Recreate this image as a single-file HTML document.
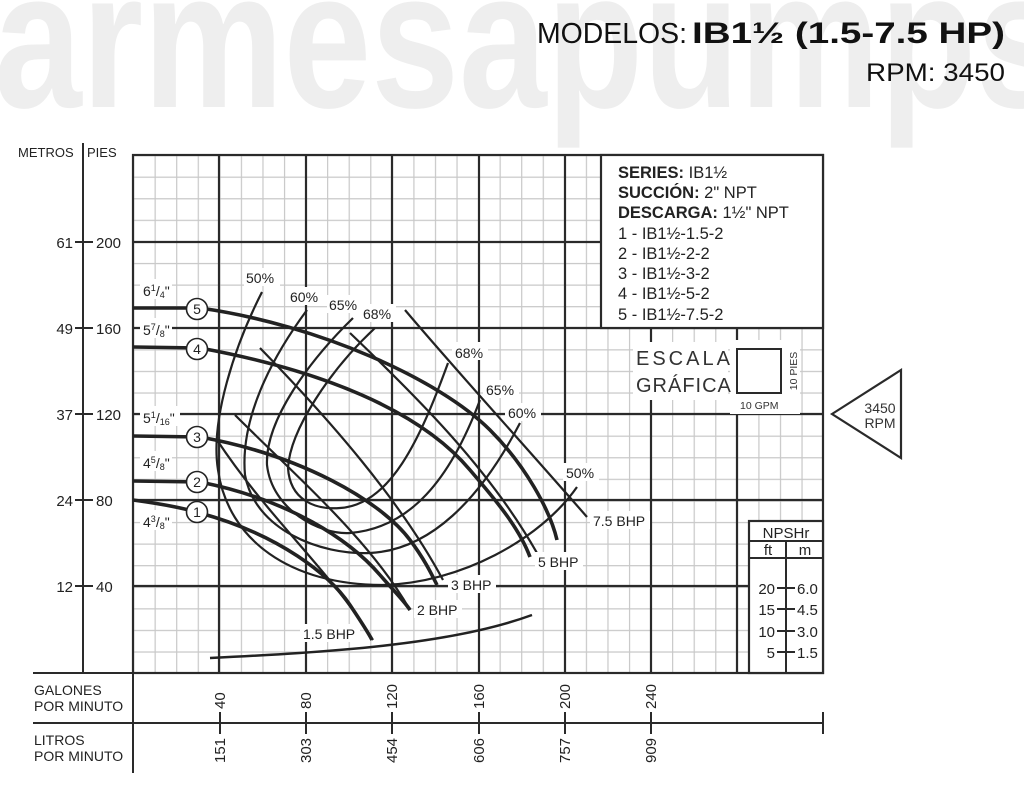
<!DOCTYPE html>
<html><head><meta charset="utf-8"><style>
html,body{margin:0;padding:0;background:#fff;}
svg{display:block;font-family:"Liberation Sans",sans-serif;}
</style></head><body>
<svg width="1024" height="787" viewBox="0 0 1024 787" xmlns="http://www.w3.org/2000/svg">
<defs>
<pattern id="mg" patternUnits="userSpaceOnUse" x="133" y="155" width="21.5625" height="21.583">
<path d="M0.6,0 V21.583 M0,0.6 H21.5625" stroke="#c8c8c8" stroke-width="1.2" fill="none"/>
</pattern>
</defs>
<text x="-6" y="107" font-size="196" font-weight="bold" fill="#eeeeee" textLength="1070" lengthAdjust="spacingAndGlyphs">armesapumps</text>
<text x="537" y="43" font-size="29" fill="#111" textLength="150" lengthAdjust="spacingAndGlyphs">MODELOS:</text>
<text x="692" y="43" font-size="30" font-weight="bold" fill="#111" textLength="313" lengthAdjust="spacingAndGlyphs">IB1½ (1.5-7.5 HP)</text>
<text x="866" y="81" font-size="25" fill="#111" textLength="139" lengthAdjust="spacingAndGlyphs">RPM: 3450</text>

<rect x="133" y="155" width="690" height="518" fill="url(#mg)"/>
<g stroke="#2a2a2a" stroke-width="2.2">
<line x1="219" y1="155" x2="219" y2="673"/><line x1="306" y1="155" x2="306" y2="673"/>
<line x1="392" y1="155" x2="392" y2="673"/><line x1="479" y1="155" x2="479" y2="673"/>
<line x1="565" y1="155" x2="565" y2="673"/><line x1="651" y1="155" x2="651" y2="673"/>
<line x1="737" y1="155" x2="737" y2="673"/>
<line x1="133" y1="242" x2="823" y2="242"/><line x1="133" y1="328" x2="823" y2="328"/>
<line x1="133" y1="414" x2="823" y2="414"/><line x1="133" y1="500" x2="823" y2="500"/>
<line x1="133" y1="586" x2="823" y2="586"/>
<rect x="133" y="155" width="690" height="518" fill="none"/>
</g>
<rect x="601" y="155" width="222" height="173" fill="#fff" stroke="#2a2a2a" stroke-width="2.2"/>
<g font-size="16.5" fill="#222">
<text x="618" y="178"><tspan font-weight="bold">SERIES:</tspan> IB1½</text>
<text x="618" y="198"><tspan font-weight="bold">SUCCIÓN:</tspan> 2" NPT</text>
<text x="618" y="218"><tspan font-weight="bold">DESCARGA:</tspan> 1½" NPT</text>
<text x="618" y="239">1 - IB1½-1.5-2</text>
<text x="618" y="259">2 - IB1½-2-2</text>
<text x="618" y="279">3 - IB1½-3-2</text>
<text x="618" y="299">4 - IB1½-5-2</text>
<text x="618" y="320">5 - IB1½-7.5-2</text>
</g>
<rect x="633" y="342" width="95" height="58" fill="#fff"/>
<rect x="730" y="340" width="70" height="74" fill="#fff"/>
<rect x="737" y="349" width="44" height="44" fill="#fff" stroke="#2a2a2a" stroke-width="2"/>
<text x="636" y="365" font-size="20" fill="#333" letter-spacing="3">ESCALA</text>
<text x="636" y="392" font-size="20" fill="#333" letter-spacing="1">GRÁFICA</text>
<text x="740" y="409" font-size="10.5" fill="#333">10 GPM</text>
<text transform="translate(797,371) rotate(-90)" font-size="10.5" fill="#333" text-anchor="middle">10 PIES</text>
<polygon points="832,414 901,370 901,458" fill="#fff" stroke="#2a2a2a" stroke-width="2.2"/>
<text x="880" y="413" font-size="14" text-anchor="middle" fill="#333">3450</text>
<text x="880" y="428" font-size="14" text-anchor="middle" fill="#333">RPM</text>
<rect x="749" y="521" width="74" height="152" fill="#fff" stroke="#2a2a2a" stroke-width="2.2"/>
<g stroke="#2a2a2a" stroke-width="2">
<line x1="749" y1="541" x2="823" y2="541"/><line x1="749" y1="558" x2="823" y2="558"/>
<line x1="786" y1="541" x2="786" y2="673"/>
<line x1="777" y1="588" x2="795" y2="588"/><line x1="777" y1="609" x2="795" y2="609"/>
<line x1="777" y1="631" x2="795" y2="631"/><line x1="777" y1="652" x2="795" y2="652"/>
</g>
<g font-size="15" fill="#222">
<text x="786" y="538" text-anchor="middle">NPSHr</text>
<text x="768" y="555" text-anchor="middle">ft</text><text x="805" y="555" text-anchor="middle">m</text>
<text x="775" y="594" text-anchor="end">20</text><text x="775" y="615" text-anchor="end">15</text>
<text x="775" y="637" text-anchor="end">10</text><text x="775" y="658" text-anchor="end">5</text>
<text x="797" y="594">6.0</text><text x="797" y="615">4.5</text>
<text x="797" y="637">3.0</text><text x="797" y="658">1.5</text>
</g>
<g stroke="#2a2a2a" stroke-width="2">
<line x1="83" y1="143" x2="83" y2="673"/>
<line x1="75" y1="242" x2="93" y2="242"/><line x1="75" y1="328" x2="93" y2="328"/>
<line x1="75" y1="414" x2="93" y2="414"/><line x1="75" y1="500" x2="93" y2="500"/>
<line x1="75" y1="586" x2="93" y2="586"/>
<line x1="33" y1="673" x2="823" y2="673"/>
<line x1="33" y1="723" x2="823" y2="723"/>
<line x1="823" y1="712" x2="823" y2="734"/>
<line x1="133" y1="673" x2="133" y2="773"/>
<line x1="220" y1="712" x2="220" y2="734"/><line x1="306" y1="712" x2="306" y2="734"/>
<line x1="392" y1="712" x2="392" y2="734"/><line x1="479" y1="712" x2="479" y2="734"/>
<line x1="565" y1="712" x2="565" y2="734"/><line x1="651" y1="712" x2="651" y2="734"/>
</g>
<g font-size="15" fill="#222">
<text x="18" y="157" font-size="13">METROS</text><text x="87" y="157" font-size="13">PIES</text>
<text x="73" y="248" text-anchor="end">61</text><text x="96" y="248">200</text>
<text x="73" y="334" text-anchor="end">49</text><text x="96" y="334">160</text>
<text x="73" y="420" text-anchor="end">37</text><text x="96" y="420">120</text>
<text x="73" y="506" text-anchor="end">24</text><text x="96" y="506">80</text>
<text x="73" y="592" text-anchor="end">12</text><text x="96" y="592">40</text>
<text x="34" y="695" font-size="14">GALONES</text><text x="34" y="711" font-size="14">POR MINUTO</text>
<text x="34" y="745" font-size="14">LITROS</text><text x="34" y="761" font-size="14">POR MINUTO</text>
</g>
<g font-size="15" fill="#222">
<text transform="translate(225,709) rotate(-90)">40</text>
<text transform="translate(311,709) rotate(-90)">80</text>
<text transform="translate(397,709) rotate(-90)">120</text>
<text transform="translate(484,709) rotate(-90)">160</text>
<text transform="translate(570,709) rotate(-90)">200</text>
<text transform="translate(656,709) rotate(-90)">240</text>
<text transform="translate(225,763) rotate(-90)">151</text>
<text transform="translate(311,763) rotate(-90)">303</text>
<text transform="translate(397,763) rotate(-90)">454</text>
<text transform="translate(484,763) rotate(-90)">606</text>
<text transform="translate(570,763) rotate(-90)">757</text>
<text transform="translate(656,763) rotate(-90)">909</text>
</g>
<g fill="#fff">
<rect x="140" y="279" width="32" height="20"/><rect x="140" y="318" width="32" height="20"/>
<rect x="140" y="406" width="40" height="20"/><rect x="140" y="451" width="32" height="20"/>
<rect x="140" y="510" width="32" height="20"/>
</g>
<g font-size="14" fill="#222">
<text x="143" y="296">6<tspan font-size="9" dy="-5">1</tspan><tspan dy="5">/</tspan><tspan font-size="9" dy="2">4</tspan><tspan dy="-2">"</tspan></text>
<text x="143" y="335">5<tspan font-size="9" dy="-5">7</tspan><tspan dy="5">/</tspan><tspan font-size="9" dy="2">8</tspan><tspan dy="-2">"</tspan></text>
<text x="143" y="423">5<tspan font-size="9" dy="-5">1</tspan><tspan dy="5">/</tspan><tspan font-size="9" dy="2">16</tspan><tspan dy="-2">"</tspan></text>
<text x="143" y="468">4<tspan font-size="9" dy="-5">5</tspan><tspan dy="5">/</tspan><tspan font-size="9" dy="2">8</tspan><tspan dy="-2">"</tspan></text>
<text x="143" y="527">4<tspan font-size="9" dy="-5">3</tspan><tspan dy="5">/</tspan><tspan font-size="9" dy="2">8</tspan><tspan dy="-2">"</tspan></text>
</g>
<path d="M210,658 C330,652 450,645 532,615" fill="none" stroke="#222" stroke-width="2.5"/>
<g fill="none" stroke="#222" stroke-width="2.2">
<path d="M262,292 C235,345 210,420 218,470 C228,540 290,585 383,585 C460,583 540,540 577,487"/>
<path d="M307,310 C270,360 240,420 245,475 C255,530 320,555 370,553 C430,550 480,500 520,423"/>
<path d="M353,318 C310,360 265,420 267,465 C272,510 320,535 350,533 C410,528 450,480 480,400"/>
<path d="M375,328 C330,370 290,430 288,468 C290,500 315,510 340,508 C390,505 420,440 448,363"/>
<path d="M405,310 C460,375 520,440 587,517"/>
<path d="M350,333 C420,400 490,470 537,553"/>
<path d="M260,348 C330,420 400,500 443,580"/>
<path d="M235,415 C300,480 370,540 410,610"/>
<path d="M217,440 C270,520 330,570 373,640"/>
</g>
<g fill="none" stroke="#222" stroke-width="3.6">
<path d="M133,308 L200,308 C320,325 440,380 490,430 C525,465 550,510 557,540"/>
<path d="M133,347 L200,348 C320,370 420,410 470,470 C500,505 520,530 530,557"/>
<path d="M133,436 L200,437 C300,455 380,500 410,540 C425,560 432,575 437,585"/>
<path d="M133,481 L200,482 C290,500 350,540 380,575 C395,592 405,602 410,610"/>
<path d="M133,500 C170,505 190,510 200,513 C280,535 330,575 350,605 C360,620 368,632 372,640"/>
</g>
<g fill="#fff" stroke="#222" stroke-width="1.6">
<circle cx="197" cy="309" r="10.5"/><circle cx="197" cy="349" r="10.5"/>
<circle cx="197" cy="437" r="10.5"/><circle cx="197" cy="482" r="10.5"/>
<circle cx="197" cy="512" r="10.5"/>
</g>
<g font-size="14" fill="#222" text-anchor="middle">
<text x="197" y="314">5</text><text x="197" y="354">4</text><text x="197" y="442">3</text>
<text x="197" y="487">2</text><text x="197" y="517">1</text>
</g>
<g fill="#fff">
<rect x="244" y="268" width="36" height="18"/><rect x="288" y="287" width="36" height="18"/>
<rect x="327" y="295" width="36" height="18"/><rect x="362" y="304" width="34" height="18"/>
<rect x="452" y="342" width="36" height="18"/><rect x="483" y="380" width="36" height="18"/>
<rect x="505" y="403" width="36" height="18"/><rect x="563" y="463" width="36" height="18"/>
<rect x="590" y="511" width="60" height="18"/><rect x="535" y="552" width="48" height="18"/>
<rect x="448" y="575" width="48" height="18"/><rect x="414" y="600" width="48" height="18"/>
<rect x="300" y="624" width="60" height="18"/>
</g>
<g font-size="14" fill="#222">
<text x="246" y="283">50%</text><text x="290" y="302">60%</text><text x="329" y="310">65%</text>
<text x="363" y="319">68%</text><text x="455" y="358">68%</text><text x="486" y="395">65%</text>
<text x="508" y="418">60%</text><text x="566" y="478">50%</text>
<text x="593" y="526">7.5 BHP</text><text x="538" y="567">5 BHP</text>
<text x="451" y="590">3 BHP</text><text x="417" y="615">2 BHP</text>
<text x="303" y="639">1.5 BHP</text>
</g>
</svg>
</body></html>
